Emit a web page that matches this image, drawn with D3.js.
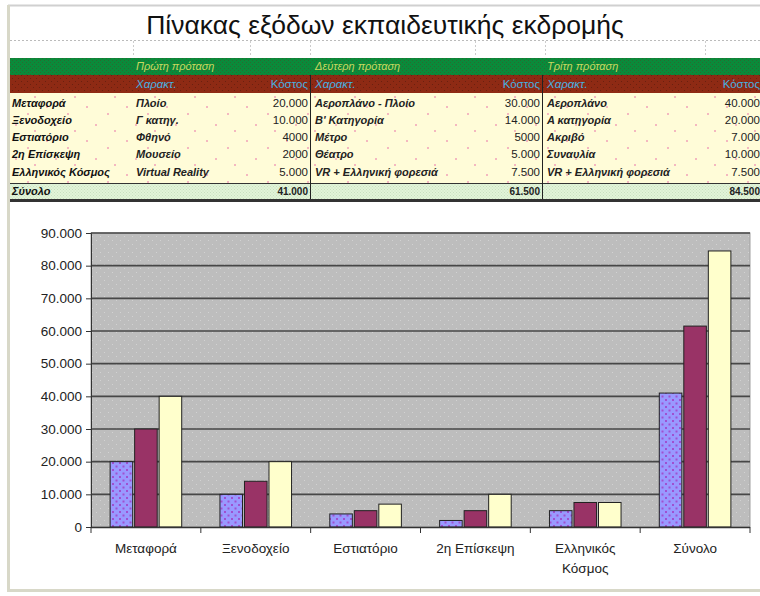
<!DOCTYPE html>
<html><head><meta charset="utf-8">
<script src="https://cdn.jsdelivr.net/npm/d3@7"></script>
<style>
html,body{margin:0;padding:0;background:#fff;}
svg{display:block;font-family:Arial,"Liberation Sans",sans-serif;}
</style></head>
<body><svg id="c" width="760" height="596"></svg>
<script>
const title = "Πίνακας εξόδων εκπαιδευτικής εκδρομής";
const categories = ["Μεταφορά","Ξενοδοχείο","Εστιατόριο","2η Επίσκεψη","Ελληνικός Κόσμος","Σύνολο"];
const proposals = ["Πρώτη πρόταση","Δεύτερη πρόταση","Τρίτη πρόταση"];
const first = [20000,10000,4000,2000,5000,41000];
const second = [30000,14000,5000,5000,7500,61500];
const third = [40000,20000,7000,10000,7500,84500];
const chars1 = ["Πλοίο","Γ κατηγ.","Φθηνό","Μουσείο","Virtual Reality"];
const chars2 = ["Αεροπλάνο - Πλοίο","Β' Κατηγορία","Μέτρο","Θέατρο","VR + Ελληνική φορεσιά"];
const chars3 = ["Αεροπλάνο","Α κατηγορία","Ακριβό","Συναυλία","VR + Ελληνική φορεσιά"];
const yTicks = [0,10000,20000,30000,40000,50000,60000,70000,80000,90000];

const series = [first, second, third];
const svg = d3.select("#c");
const loc = d3.formatLocale({decimal:",", thousands:".", grouping:[3], currency:["","€"]});
const fmt = loc.format(",d");

// patterns
const defs = svg.append("defs");
function dotPattern(id, bg, dot, size, r){
  const p = defs.append("pattern").attr("id",id).attr("patternUnits","userSpaceOnUse").attr("width",size).attr("height",size);
  p.append("rect").attr("width",size).attr("height",size).attr("fill",bg);
  p.append("rect").attr("x",0).attr("y",0).attr("width",r).attr("height",r).attr("fill",dot);
  p.append("rect").attr("x",size/2).attr("y",size/2).attr("width",r).attr("height",r).attr("fill",dot);
}
dotPattern("pGreen","#0a8a3a","#2a6a30",4,1);
dotPattern("pRed","#8e2a14","#6a2010",6,1);
dotPattern("pTotal","#e2f4d8","#c8e0c0",3,1);
dotPattern("pPlot","#bdbdbd","#d2d2d2",8,1);
dotPattern("pBlue","#9999ff","#a050d0",7,2);
const py = defs.append("pattern").attr("id","pYellow").attr("patternUnits","userSpaceOnUse").attr("width",40).attr("height",34);
py.append("rect").attr("width",40).attr("height",34).attr("fill","#fffcd8");
[[6,4],[27,11],[15,22],[34,28]].forEach(d=>py.append("rect").attr("x",d[0]).attr("y",d[1]).attr("width",2).attr("height",2).attr("fill","#f4b8c0"));

// frame
svg.append("line").attr("x1",8).attr("x2",760).attr("y1",5.5).attr("y2",5.5).attr("stroke","#d0d0d0").attr("stroke-width",2);
svg.append("rect").attr("x",7).attr("y",5).attr("width",3).attr("height",587).attr("fill","#d8d8c8");
svg.append("rect").attr("x",7).attr("y",589).attr("width",753).attr("height",3).attr("fill","#d8d8c8");

// title
svg.append("text").attr("x",385).attr("y",34).attr("text-anchor","middle").attr("font-size",26.5).attr("fill","#111").text(title);
svg.append("line").attr("x1",10).attr("x2",760).attr("y1",40.5).attr("y2",40.5).attr("stroke","#bbb").attr("stroke-dasharray","2,2");
[133,250,310,475,545,705].forEach(x=>svg.append("line").attr("x1",x+0.5).attr("x2",x+0.5).attr("y1",41).attr("y2",57).attr("stroke","#ccc").attr("stroke-dasharray","2,2"));

// table
const colX = [12,136,315,547];
const valX = [308,540,760];
svg.append("rect").attr("x",10).attr("y",58).attr("width",750).attr("height",17).attr("fill","url(#pGreen)");
svg.append("rect").attr("x",10).attr("y",75).attr("width",750).attr("height",18).attr("fill","url(#pRed)");
svg.append("rect").attr("x",10).attr("y",93).attr("width",750).attr("height",91).attr("fill","url(#pYellow)");
svg.append("rect").attr("x",10).attr("y",184).attr("width",750).attr("height",15).attr("fill","url(#pTotal)");
svg.append("line").attr("x1",10).attr("x2",760).attr("y1",183.5).attr("y2",183.5).attr("stroke","#333");
svg.append("rect").attr("x",10).attr("y",199).attr("width",750).attr("height",3).attr("fill","#333");
[310,542].forEach(x=>svg.append("line").attr("x1",x+0.5).attr("x2",x+0.5).attr("y1",75).attr("y2",199).attr("stroke","#222"));

const tf = "Arial,'Liberation Sans',sans-serif";
proposals.forEach((p,i)=>{
  svg.append("text").attr("x",colX[i+1]).attr("y",70).attr("font-size",11).attr("font-style","italic").attr("fill","#c8d860").text(p);
  svg.append("text").attr("x",colX[i+1]).attr("y",88).attr("font-size",11.5).attr("font-style","italic").attr("fill","#48b0e0").text("Χαρακτ.");
  svg.append("text").attr("x",valX[i]).attr("y",88).attr("text-anchor","end").attr("font-size",11.5).attr("fill","#48b0e0").text("Κόστος");
});
const rowY = [107,124,141,158,176];
const charsAll = [chars1,chars2,chars3];
const rawFmt = [[true,true,false,false,true],[true,true,false,true,true],[true,true,true,true,true]];
categories.slice(0,5).forEach((c,r)=>{
  svg.append("text").attr("x",colX[0]).attr("y",rowY[r]).attr("font-size",11).attr("font-weight","bold").attr("font-style","italic").attr("fill","#111").text(c);
  charsAll.forEach((ch,i)=>{
    svg.append("text").attr("x",colX[i+1]).attr("y",rowY[r]).attr("font-size",11).attr("font-style","italic").attr("font-weight","bold").attr("fill","#222").text(ch[r]);
    const v = series[i][r];
    svg.append("text").attr("x",valX[i]).attr("y",rowY[r]).attr("text-anchor","end").attr("font-size",11.5).attr("fill","#222")
      .text(rawFmt[i][r] ? fmt(v) : String(v));
  });
});
svg.append("text").attr("x",colX[0]).attr("y",195).attr("font-size",11).attr("font-weight","bold").attr("font-style","italic").attr("fill","#111").text("Σύνολο");
series.forEach((s,i)=>{
  svg.append("text").attr("x",valX[i]).attr("y",195).attr("text-anchor","end").attr("font-size",10).attr("font-weight","bold").attr("fill","#222").text(fmt(s[5]));
});

// chart
const L=91, R=750, T=233, B=527;
const y = d3.scaleLinear().domain([0,90000]).range([B,T]);
const x0 = d3.scaleBand().domain(categories).range([L,R]).paddingInner(0).paddingOuter(0);
const x1 = d3.scaleBand().domain([0,1,2]).range([0,x0.bandwidth()]).paddingInner(0.08).paddingOuter(0.78);
svg.append("rect").attr("x",L).attr("y",T).attr("width",R-L).attr("height",B-T).attr("fill","url(#pPlot)").attr("stroke","#a0a0a0");
const grid = svg.append("g");
yTicks.slice(1).forEach(t=>{
  grid.append("line").attr("x1",L).attr("x2",R).attr("y1",y(t)).attr("y2",y(t)).attr("stroke","#474747").attr("stroke-width",1.6);
});
const fills = ["url(#pBlue)","#993366","#ffffcc"];
const g = svg.append("g");
categories.forEach((c,ci)=>{
  series.forEach((s,si)=>{
    g.append("rect").attr("x",x0(c)+x1(si)).attr("y",y(s[ci])).attr("width",x1.bandwidth()).attr("height",B-y(s[ci]))
      .attr("fill",fills[si]).attr("stroke","#222").attr("stroke-width",1);
  });
});
// axes
const ya = d3.axisLeft(y).tickValues(yTicks).tickFormat(fmt).tickSize(5).tickPadding(4);
const yg = svg.append("g").attr("transform",`translate(${L},0)`).call(ya);
yg.select(".domain").attr("stroke","#333");
yg.selectAll("text").attr("font-size",13.5).attr("fill","#222").attr("font-family",tf);
yg.selectAll("line").attr("stroke","#333");
svg.append("line").attr("x1",L).attr("x2",R).attr("y1",B+0.5).attr("y2",B+0.5).attr("stroke","#333").attr("stroke-width",1.5);
categories.concat(["_end"]).forEach((c,i)=>{
  const xx = c==="_end" ? R : x0(c);
  svg.append("line").attr("x1",xx).attr("x2",xx).attr("y1",B).attr("y2",B+6).attr("stroke","#333");
});
categories.forEach(c=>{
  const words = c==="Ελληνικός Κόσμος" ? ["Ελληνικός","Κόσμος"] : [c];
  const t = svg.append("text").attr("text-anchor","middle").attr("font-size",13.5).attr("fill","#222");
  words.forEach((w,k)=>t.append("tspan").attr("x",x0(c)+x0.bandwidth()/2).attr("y",553+k*20).text(w));
});
</script></body></html>
